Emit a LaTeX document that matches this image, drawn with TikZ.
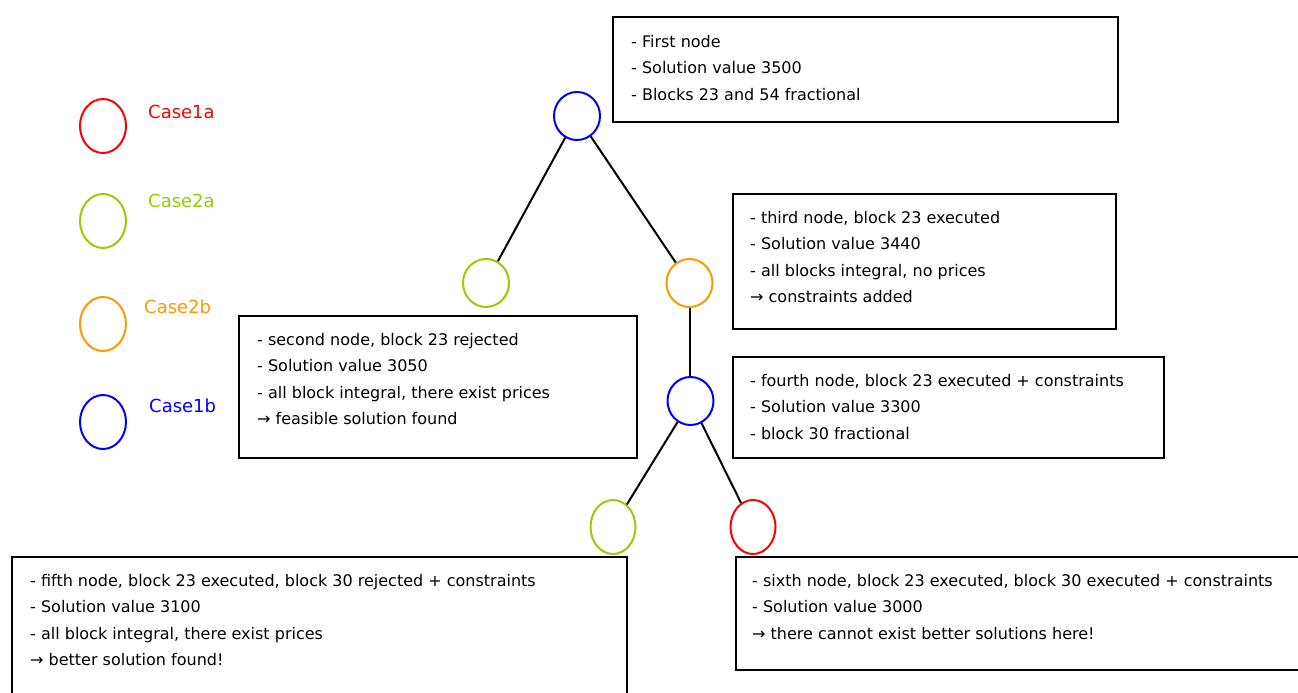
\documentclass[tikz,border=0pt]{standalone}
\usepackage{fontspec}
\setmainfont{DejaVu Sans}
\usetikzlibrary{shapes.geometric}
\definecolor{cred}{HTML}{FF0000}
\definecolor{cgreen}{HTML}{99CC00}
\definecolor{corange}{HTML}{FF9900}
\definecolor{cblue}{HTML}{0000FF}
\begin{document}
\begin{tikzpicture}[x=1pt,y=-1pt,
  tnode/.style={ellipse, draw, line width=2pt, minimum width=46pt, minimum height=48pt, inner sep=0pt},
  tallnode/.style={tnode, minimum height=54pt},
  infobox/.style={draw, line width=2pt, anchor=north west, inner sep=0pt},
  infotext/.style={anchor=base west, align=left, inner sep=0pt, font=\fontsize{16}{26.5}\selectfont},
  legtext/.style={anchor=base west, inner sep=0pt, font=\fontsize{18}{20}\selectfont},
  edge/.style={line width=2pt}
]
\useasboundingbox (0,0) rectangle (1298,693);

% legend
\node[tallnode, cred] (l1) at (103,126) {};
\node[tallnode, cgreen] (l2) at (103,221) {};
\node[tallnode, corange] (l3) at (103,324) {};
\node[tallnode, cblue] (l4) at (103,422) {};
\node[legtext, text=cred] (t1) at (148,118) {Case1a};
\node[legtext, text=cgreen] (t2) at (148,207) {Case2a};
\node[legtext, text=corange] (t3) at (144,313) {Case2b};
\node[legtext, text=cblue] (t4) at (149,412) {Case1b};

% tree
\node[tnode, cblue] (n1) at (577,116) {};
\node[tnode, cgreen] (n2) at (486,283) {};
\node[tnode, corange] (n3) at (689.5,283) {};
\node[tnode, cblue] (n4) at (690.5,401) {};
\node[tallnode, minimum width=45pt, cgreen] (n5) at (613,527) {};
\node[tallnode, minimum width=45pt, cred] (n6) at (753,527) {};

\draw[edge] (n1) -- (n2);
\draw[edge] (n1) -- (n3);
\draw[edge] (n3.south) -- (n3.south |- n4.north);
\draw[edge] (n4) -- (n5);
\draw[edge] (n4) -- (n6);

% boxes (text anchored at the baseline of its last line)
\node[infobox, minimum width=505pt, minimum height=105pt] (b1) at (612,16) {};
\node[infotext] (x1) at (631,100) {- First node\\- Solution value 3500\\- Blocks 23 and 54 fractional};

\node[infobox, minimum width=398pt, minimum height=142pt] (b2) at (238,315) {};
\node[infotext] (x2) at (257,424.5) {- second node, block 23 rejected\\- Solution value 3050\\- all block integral, there exist prices\\→ feasible solution found};

\node[infobox, minimum width=383pt, minimum height=135pt] (b3) at (732,193) {};
\node[infotext] (x3) at (750,302.5) {- third node, block 23 executed\\- Solution value 3440\\- all blocks integral, no prices\\→ constraints added};

\node[infobox, minimum width=431pt, minimum height=101pt] (b4) at (732,356) {};
\node[infotext] (x4) at (750,439) {- fourth node, block 23 executed + constraints\\- Solution value 3300\\- block 30 fractional};

\node[infobox, minimum width=615pt, minimum height=150pt] (b5) at (11,556) {};
\node[infotext] (x5) at (30,665.5) {- fifth node, block 23 executed, block 30 rejected + constraints\\- Solution value 3100\\- all block integral, there exist prices\\→ better solution found!};

\node[infobox, minimum width=580pt, minimum height=113pt] (b6) at (735,556) {};
\node[infotext] (x6) at (752,639) {- sixth node, block 23 executed, block 30 executed + constraints\\- Solution value 3000\\→ there cannot exist better solutions here!};
\end{tikzpicture}
\end{document}
